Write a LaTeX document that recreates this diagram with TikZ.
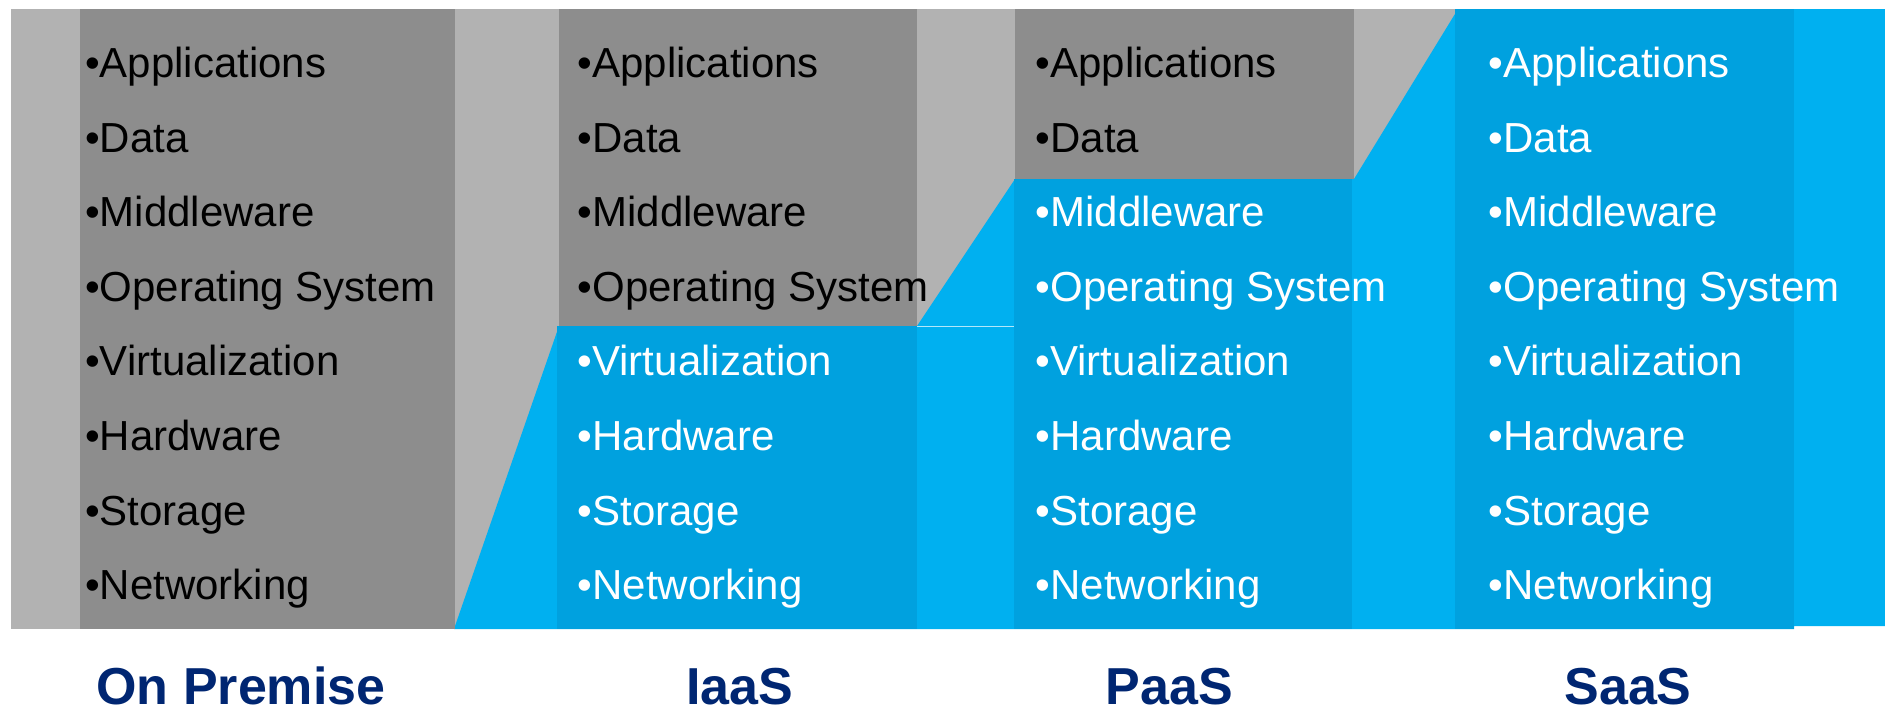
\documentclass[tikz,border=0pt]{standalone}
\usepackage{fontspec}
\setmainfont{Liberation Sans}
\definecolor{dgray}{RGB}{141,141,141}
\definecolor{lgray}{RGB}{178,178,178}
\definecolor{lblue}{RGB}{0,176,240}
\definecolor{dblue}{RGB}{0,161,223}
\definecolor{navy}{RGB}{0,38,114}
\tikzset{
  item/.style={anchor=base west,inner sep=0pt,font=\fontsize{42}{50}\selectfont},
  blk/.style={item,text=black},
  wht/.style={item,text=white},
  title/.style={anchor=base,inner sep=0pt,text depth=0pt,text=navy,font=\fontsize{52}{60}\selectfont\bfseries}
}
\begin{document}
\begin{tikzpicture}[x=1pt,y=-1pt]
\useasboundingbox (0,0) rectangle (1885,710);
% backgrounds
\fill[lgray] (11,9) rectangle (1458,629);
\fill[lblue] (454,629) -- (559,326) -- (917,326) -- (1015,179) -- (1354,179) -- (1458,9)
  -- (1885,9) -- (1885,626) -- (1794,626) -- (1794,629) -- cycle;
\draw[white!70!lblue,line width=1pt] (917,326.5) -- (1015,326.5);
% dark grey parts
\fill[dgray] (80,9) rectangle (455,629);
\fill[dgray] (559,9) rectangle (917,326);
\fill[dgray] (1015,9) rectangle (1354,179);
% blue columns
\fill[dblue] (557,326) rectangle (917,629);
\fill[dblue] (1014,179) rectangle (1352,629);
\fill[dblue] (1455,9) rectangle (1794,629);
% On Premise
\node[blk] (o1) at (85,77.5) {•Applications};
\node[blk] (o2) at (85,152.1) {•Data};
\node[blk] (o3) at (85,226.7) {•Middleware};
\node[blk] (o4) at (85,301.3) {•Operating System};
\node[blk] (o5) at (85,375.9) {•Virtualization};
\node[blk] (o6) at (85,450.5) {•Hardware};
\node[blk] (o7) at (85,525.1) {•Storage};
\node[blk] (o8) at (85,599.7) {•Networking};
% IaaS
\node[blk] (i1) at (577.5,77.5) {•Applications};
\node[blk] (i2) at (577.5,152.1) {•Data};
\node[blk] (i3) at (577.5,226.7) {•Middleware};
\node[blk] (i4) at (577.5,301.3) {•Operating System};
\node[wht] (i5) at (577.5,375.9) {•Virtualization};
\node[wht] (i6) at (577.5,450.5) {•Hardware};
\node[wht] (i7) at (577.5,525.1) {•Storage};
\node[wht] (i8) at (577.5,599.7) {•Networking};
% PaaS
\node[blk] (p1) at (1035.5,77.5) {•Applications};
\node[blk] (p2) at (1035.5,152.1) {•Data};
\node[wht] (p3) at (1035.5,226.7) {•Middleware};
\node[wht] (p4) at (1035.5,301.3) {•Operating System};
\node[wht] (p5) at (1035.5,375.9) {•Virtualization};
\node[wht] (p6) at (1035.5,450.5) {•Hardware};
\node[wht] (p7) at (1035.5,525.1) {•Storage};
\node[wht] (p8) at (1035.5,599.7) {•Networking};
% SaaS
\node[wht] (s1) at (1488.5,77.5) {•Applications};
\node[wht] (s2) at (1488.5,152.1) {•Data};
\node[wht] (s3) at (1488.5,226.7) {•Middleware};
\node[wht] (s4) at (1488.5,301.3) {•Operating System};
\node[wht] (s5) at (1488.5,375.9) {•Virtualization};
\node[wht] (s6) at (1488.5,450.5) {•Hardware};
\node[wht] (s7) at (1488.5,525.1) {•Storage};
\node[wht] (s8) at (1488.5,599.7) {•Networking};
% titles
\node[title] (t1) at (241,704) {On Premise};
\node[title] (t2) at (740,704) {IaaS};
\node[title] (t3) at (1169.5,704) {PaaS};
\node[title] (t4) at (1628,704) {SaaS};
\end{tikzpicture}
\end{document}
